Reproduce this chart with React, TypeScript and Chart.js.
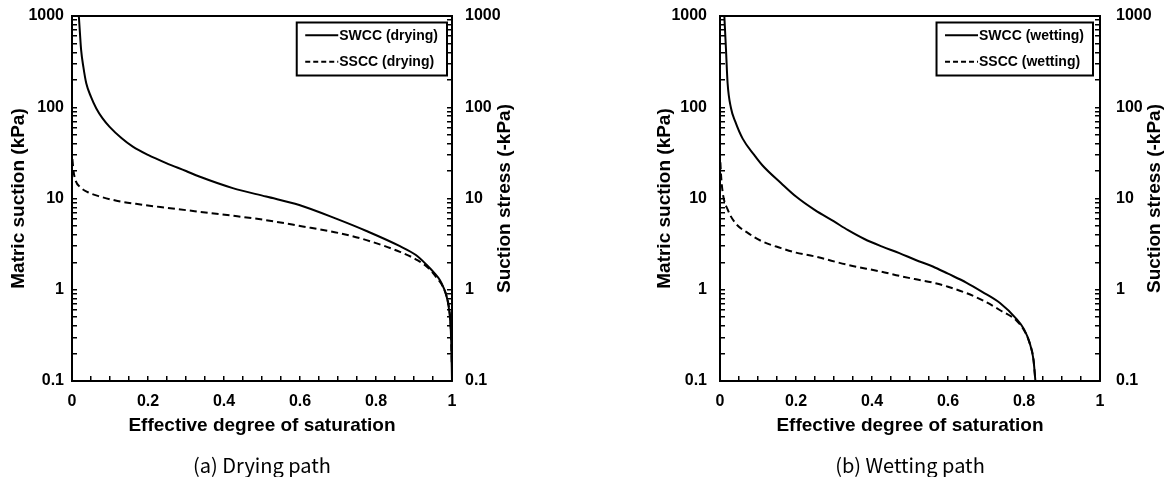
import React, { useEffect, useRef } from "react";
import { Chart, registerables } from "chart.js";

Chart.register(...registerables);

// ---------- data ----------
const dryingSWCC_S = [0.018, 0.021, 0.024, 0.03, 0.0375, 0.05, 0.064, 0.08, 0.099, 0.13, 0.16, 0.2, 0.248, 0.3, 0.335, 0.423, 0.511, 0.598, 0.7, 0.775, 0.863, 0.905, 0.933, 0.955, 0.968, 0.978, 0.986, 0.991, 0.995, 0.998, 1.0];
const dryingSWCC_psi = [1000, 640, 425, 275, 183, 130, 97, 76, 61, 46, 37, 30, 24.4, 20, 17.4, 13, 10.5, 8.5, 5.9, 4.4, 3.0, 2.4, 1.88, 1.5, 1.28, 1.05, 0.84, 0.66, 0.47, 0.27, 0.1];

const dryingSSCC_S = [0.001, 0.004, 0.01, 0.021, 0.04, 0.074, 0.12, 0.18, 0.25, 0.33, 0.42, 0.51, 0.6, 0.7, 0.775, 0.863, 0.91, 0.94, 0.96, 0.975, 0.986, 0.993, 0.997, 0.9995];
const dryingSSCC_psi = [27, 20, 15.5, 13.4, 11.8, 10.5, 9.4, 8.6, 7.9, 7.2, 6.5, 5.8, 5.0, 4.2, 3.5, 2.6, 2.1, 1.7, 1.35, 1.1, 0.84, 0.6, 0.38, 0.15];

const wettingSWCC_S = [0.0114, 0.0158, 0.02, 0.029, 0.04, 0.06, 0.09, 0.112, 0.161, 0.2, 0.249, 0.3, 0.337, 0.38, 0.427, 0.472, 0.515, 0.56, 0.6, 0.648, 0.69, 0.736, 0.78, 0.8, 0.815, 0.825, 0.83];
const wettingSWCC_psi = [1000, 425, 183, 97.5, 70, 45, 30, 23, 14.7, 10.5, 7.5, 5.6, 4.5, 3.6, 2.97, 2.52, 2.12, 1.8, 1.5, 1.2, 0.95, 0.72, 0.48, 0.37, 0.26, 0.17, 0.1];

const wettingSSCC_S = [0.001, 0.003, 0.008, 0.0206, 0.04, 0.073, 0.11, 0.161, 0.2, 0.249, 0.337, 0.424, 0.472, 0.512, 0.56, 0.6, 0.648, 0.69, 0.736, 0.78, 0.8, 0.815, 0.825, 0.83];
const wettingSSCC_psi = [25, 17.4, 11, 7.5, 5.4, 4.2, 3.4, 2.86, 2.55, 2.32, 1.87, 1.58, 1.42, 1.31, 1.2, 1.08, 0.92, 0.77, 0.6, 0.46, 0.36, 0.26, 0.17, 0.1];

const xTickValues = [0, 0.05, 0.1, 0.15, 0.2, 0.25, 0.3, 0.35, 0.4, 0.45, 0.5, 0.55, 0.6, 0.65, 0.7, 0.75, 0.8, 0.85, 0.9, 0.95, 1];
const xLabeledValues = [0, 0.2, 0.4, 0.6, 0.8, 1];
const xTickLabels = ["0", "0.2", "0.4", "0.6", "0.8", "1"];

const yDecades = [0.1, 1, 10, 100, 1000];
const yTickLabels = ["0.1", "1", "10", "100", "1000"];
const yMinorMultipliers = [2, 3, 4, 5, 6, 7, 8, 9];

const xTitle = "Effective degree of saturation";
const yTitle = "Matric suction (kPa)";
const y2Title = "Suction stress (-kPa)";

// ---------- styling ----------
const FONT = '"Liberation Sans", Arial, Helvetica, sans-serif';
const CAPTION_FONT = '"Noto Sans CJK KR", "Noto Sans", sans-serif';
const H = 477;
const TICK_SIZE = 16;
const TITLE_SIZE = 19;
const CAPTION_SIZE = 20;
const AREA_TOP = 16;
const AREA_BOTTOM = 381;

const yTickValues: number[] = [];
yDecades.forEach((d, i) => {
  yTickValues.push(d);
  if (i < yDecades.length - 1) yMinorMultipliers.forEach((m) => yTickValues.push(Number((d * m).toPrecision(6))));
});

const toPoints = (xs: number[], ys: number[]) => xs.map((x, i) => ({ x, y: ys[i] }));

const yLabel = (v: number) => {
  const i = yDecades.findIndex((d) => Math.abs(Math.log10(v) - Math.log10(d)) < 1e-6);
  return i >= 0 ? yTickLabels[i] : "";
};
const xLabel = (v: number) => {
  const i = xLabeledValues.findIndex((d) => Math.abs(v - d) < 1e-6);
  return i >= 0 ? xTickLabels[i] : "";
};

const framePlugin = {
  id: "frame",
  afterDraw(chart: any, _args: any, opts: any) {
    const { ctx, chartArea: a } = chart;
    ctx.save();
    ctx.strokeStyle = "#000";
    ctx.lineWidth = 2;
    ctx.beginPath();
    ctx.moveTo(a.left - 1, a.top);
    ctx.lineTo(a.right + 1, a.top);
    ctx.stroke();

    // boxed legend (top-right inside plot)
    ctx.font = `bold 14px ${FONT}`;
    const items = chart.data.datasets;
    const textW = Math.max(...items.map((d: any) => ctx.measureText(d.label).width));
    const padL = 8.5, lineLen = 33, gap = 1, padR = 9;
    const w = padL + lineLen + gap + textW + padR;
    const h = 53;
    const right = a.right - opts.legendRight;
    const top = a.top + opts.legendTop;
    const left = right - w;
    ctx.fillStyle = "#fff";
    ctx.fillRect(left, top, w, h);
    ctx.strokeRect(left, top, w, h);
    items.forEach((d: any, i: number) => {
      const y = top + 12.8 + i * 26.5;
      ctx.lineWidth = 2;
      ctx.setLineDash(d.borderDash ? [5, 3] : []);
      ctx.beginPath();
      ctx.moveTo(left + padL, y);
      ctx.lineTo(left + padL + lineLen, y);
      ctx.stroke();
      ctx.setLineDash([]);
      ctx.fillStyle = "#000";
      ctx.textAlign = "left";
      ctx.textBaseline = "middle";
      ctx.fillText(d.label, left + padL + lineLen + gap, y + 0.5);
    });

    // right axis title reading bottom-to-top
    ctx.translate(a.right + opts.rightTitleOffset, (a.top + a.bottom) / 2);
    ctx.rotate(-Math.PI / 2);
    ctx.font = `bold ${TITLE_SIZE}px ${FONT}`;
    ctx.textAlign = "center";
    ctx.textBaseline = "middle";
    ctx.fillStyle = "#000";
    ctx.fillText(opts.rightTitle, 0, 0);
    ctx.restore();
  },
};

type PanelSpec = {
  left: number;
  width: number;
  padLeft: number;
  y2Width: number;
  yTickPad: number;
  y2TickPad: number;
  yTitlePad: number;
  rightTitleOffset: number;
  legendRight: number;
  caption: string;
  swccLabel: string;
  ssccLabel: string;
  swccS: number[];
  swccPsi: number[];
  ssccS: number[];
  ssccPsi: number[];
};

function Panel({ spec }: { spec: PanelSpec }) {
  const ref = useRef<HTMLCanvasElement>(null);
  useEffect(() => {
    const captionH = CAPTION_SIZE * 1.2;
    const xH = H - AREA_BOTTOM - captionH;
    const tickFont = { family: FONT, size: TICK_SIZE, weight: "bold" as const };
    const titleFont = { family: FONT, size: TITLE_SIZE, weight: "bold" as const };
    const common = {
      borderColor: "#000",
      backgroundColor: "#000",
      borderWidth: 2,
      pointRadius: 0,
      fill: false,
      cubicInterpolationMode: "monotone" as const,
    };
    const noVPad = (s: any) => {
      s.paddingTop = 0;
      s.paddingBottom = 0;
    };
    const chart = new Chart(ref.current!, {
      type: "line",
      data: {
        datasets: [
          { ...common, label: spec.swccLabel, data: toPoints(spec.swccS, spec.swccPsi) },
          { ...common, label: spec.ssccLabel, data: toPoints(spec.ssccS, spec.ssccPsi), borderDash: [7, 4] },
        ],
      },
      options: {
        responsive: false,
        animation: false,
        devicePixelRatio: 1,
        events: [],
        layout: { padding: { top: AREA_TOP, left: spec.padLeft, right: 0, bottom: 0 } },
        plugins: {
          legend: { display: false },
          tooltip: { enabled: false },
          title: {
            display: true,
            text: spec.caption,
            position: "bottom",
            fullSize: false,
            color: "#000",
            font: { family: CAPTION_FONT, size: CAPTION_SIZE, weight: "normal" },
            padding: { top: 0, bottom: 0 },
          },
          frame: {
            rightTitle: y2Title,
            rightTitleOffset: spec.rightTitleOffset,
            legendRight: spec.legendRight,
            legendTop: 6.5,
          },
        } as any,
        scales: {
          x: {
            type: "linear",
            min: 0,
            max: 1,
            afterBuildTicks: (s: any) => {
              s.ticks = xTickValues.map((v) => ({ value: v }));
            },
            afterFit: (s: any) => {
              s.height = xH;
            },
            border: { display: true, color: "#000", width: 2 },
            grid: { display: true, drawOnChartArea: false, drawTicks: true, tickLength: -5, color: "#000", lineWidth: 1.5 },
            ticks: {
              autoSkip: false,
              maxRotation: 0,
              padding: 16.4,
              color: "#000",
              font: tickFont,
              callback: (v: any) => xLabel(Number(v)),
            },
            title: { display: true, text: xTitle, color: "#000", font: titleFont, padding: { top: 0, bottom: 15.8 } },
          },
          y: {
            type: "logarithmic",
            position: "left",
            min: 0.1,
            max: 1000,
            afterBuildTicks: (s: any) => {
              s.ticks = yTickValues.map((v) => ({ value: v }));
            },
            afterFit: (s: any) => {
              s.width = 72;
              noVPad(s);
            },
            border: { display: true, color: "#000", width: 2 },
            grid: { display: true, drawOnChartArea: false, drawTicks: true, tickLength: -5, color: "#000", lineWidth: 1.5 },
            ticks: {
              autoSkip: false,
              padding: spec.yTickPad,
              color: "#000",
              font: tickFont,
              callback: (v: any) => yLabel(Number(v)),
            },
            title: { display: true, text: yTitle, color: "#000", font: titleFont, padding: { top: spec.yTitlePad, bottom: 0 } },
          },
          y2: {
            type: "logarithmic",
            position: "right",
            min: 0.1,
            max: 1000,
            afterBuildTicks: (s: any) => {
              s.ticks = yTickValues.map((v) => ({ value: v }));
            },
            afterFit: (s: any) => {
              s.width = spec.y2Width;
              noVPad(s);
            },
            border: { display: true, color: "#000", width: 2 },
            grid: { display: true, drawOnChartArea: false, drawTicks: true, tickLength: -5, color: "#000", lineWidth: 1.5 },
            ticks: {
              autoSkip: false,
              padding: spec.y2TickPad,
              color: "#000",
              font: tickFont,
              callback: (v: any) => yLabel(Number(v)),
            },
          },
        },
      },
      plugins: [framePlugin as any],
    });
    return () => chart.destroy();
  }, [spec]);
  return (
    <div style={{ position: "absolute", left: spec.left, top: 0, width: spec.width, height: H }}>
      <canvas ref={ref} width={spec.width} height={H} style={{ display: "block", width: spec.width, height: H }} />
    </div>
  );
}

const dryingPanel: PanelSpec = {
  left: 0,
  width: 584,
  padLeft: 0,
  y2Width: 132,
  yTickPad: 13,
  y2TickPad: 18,
  yTitlePad: 7.1,
  rightTitleOffset: 53,
  legendRight: 5,
  caption: "(a) Drying path",
  swccLabel: "SWCC (drying)",
  ssccLabel: "SSCC (drying)",
  swccS: dryingSWCC_S,
  swccPsi: dryingSWCC_psi,
  ssccS: dryingSSCC_S,
  ssccPsi: dryingSSCC_psi,
};

const wettingPanel: PanelSpec = {
  left: 584,
  width: 585,
  padLeft: 64,
  y2Width: 69,
  yTickPad: 18,
  y2TickPad: 21,
  yTitlePad: 5.6,
  rightTitleOffset: 55,
  legendRight: 7,
  caption: "(b) Wetting path",
  swccLabel: "SWCC (wetting)",
  ssccLabel: "SSCC (wetting)",
  swccS: wettingSWCC_S,
  swccPsi: wettingSWCC_psi,
  ssccS: wettingSSCC_S,
  ssccPsi: wettingSSCC_psi,
};

export default function App() {
  return (
    <div style={{ position: "absolute", left: 0, top: 0, width: 1169, height: H, background: "#fff" }}>
      <Panel spec={dryingPanel} />
      <Panel spec={wettingPanel} />
    </div>
  );
}
